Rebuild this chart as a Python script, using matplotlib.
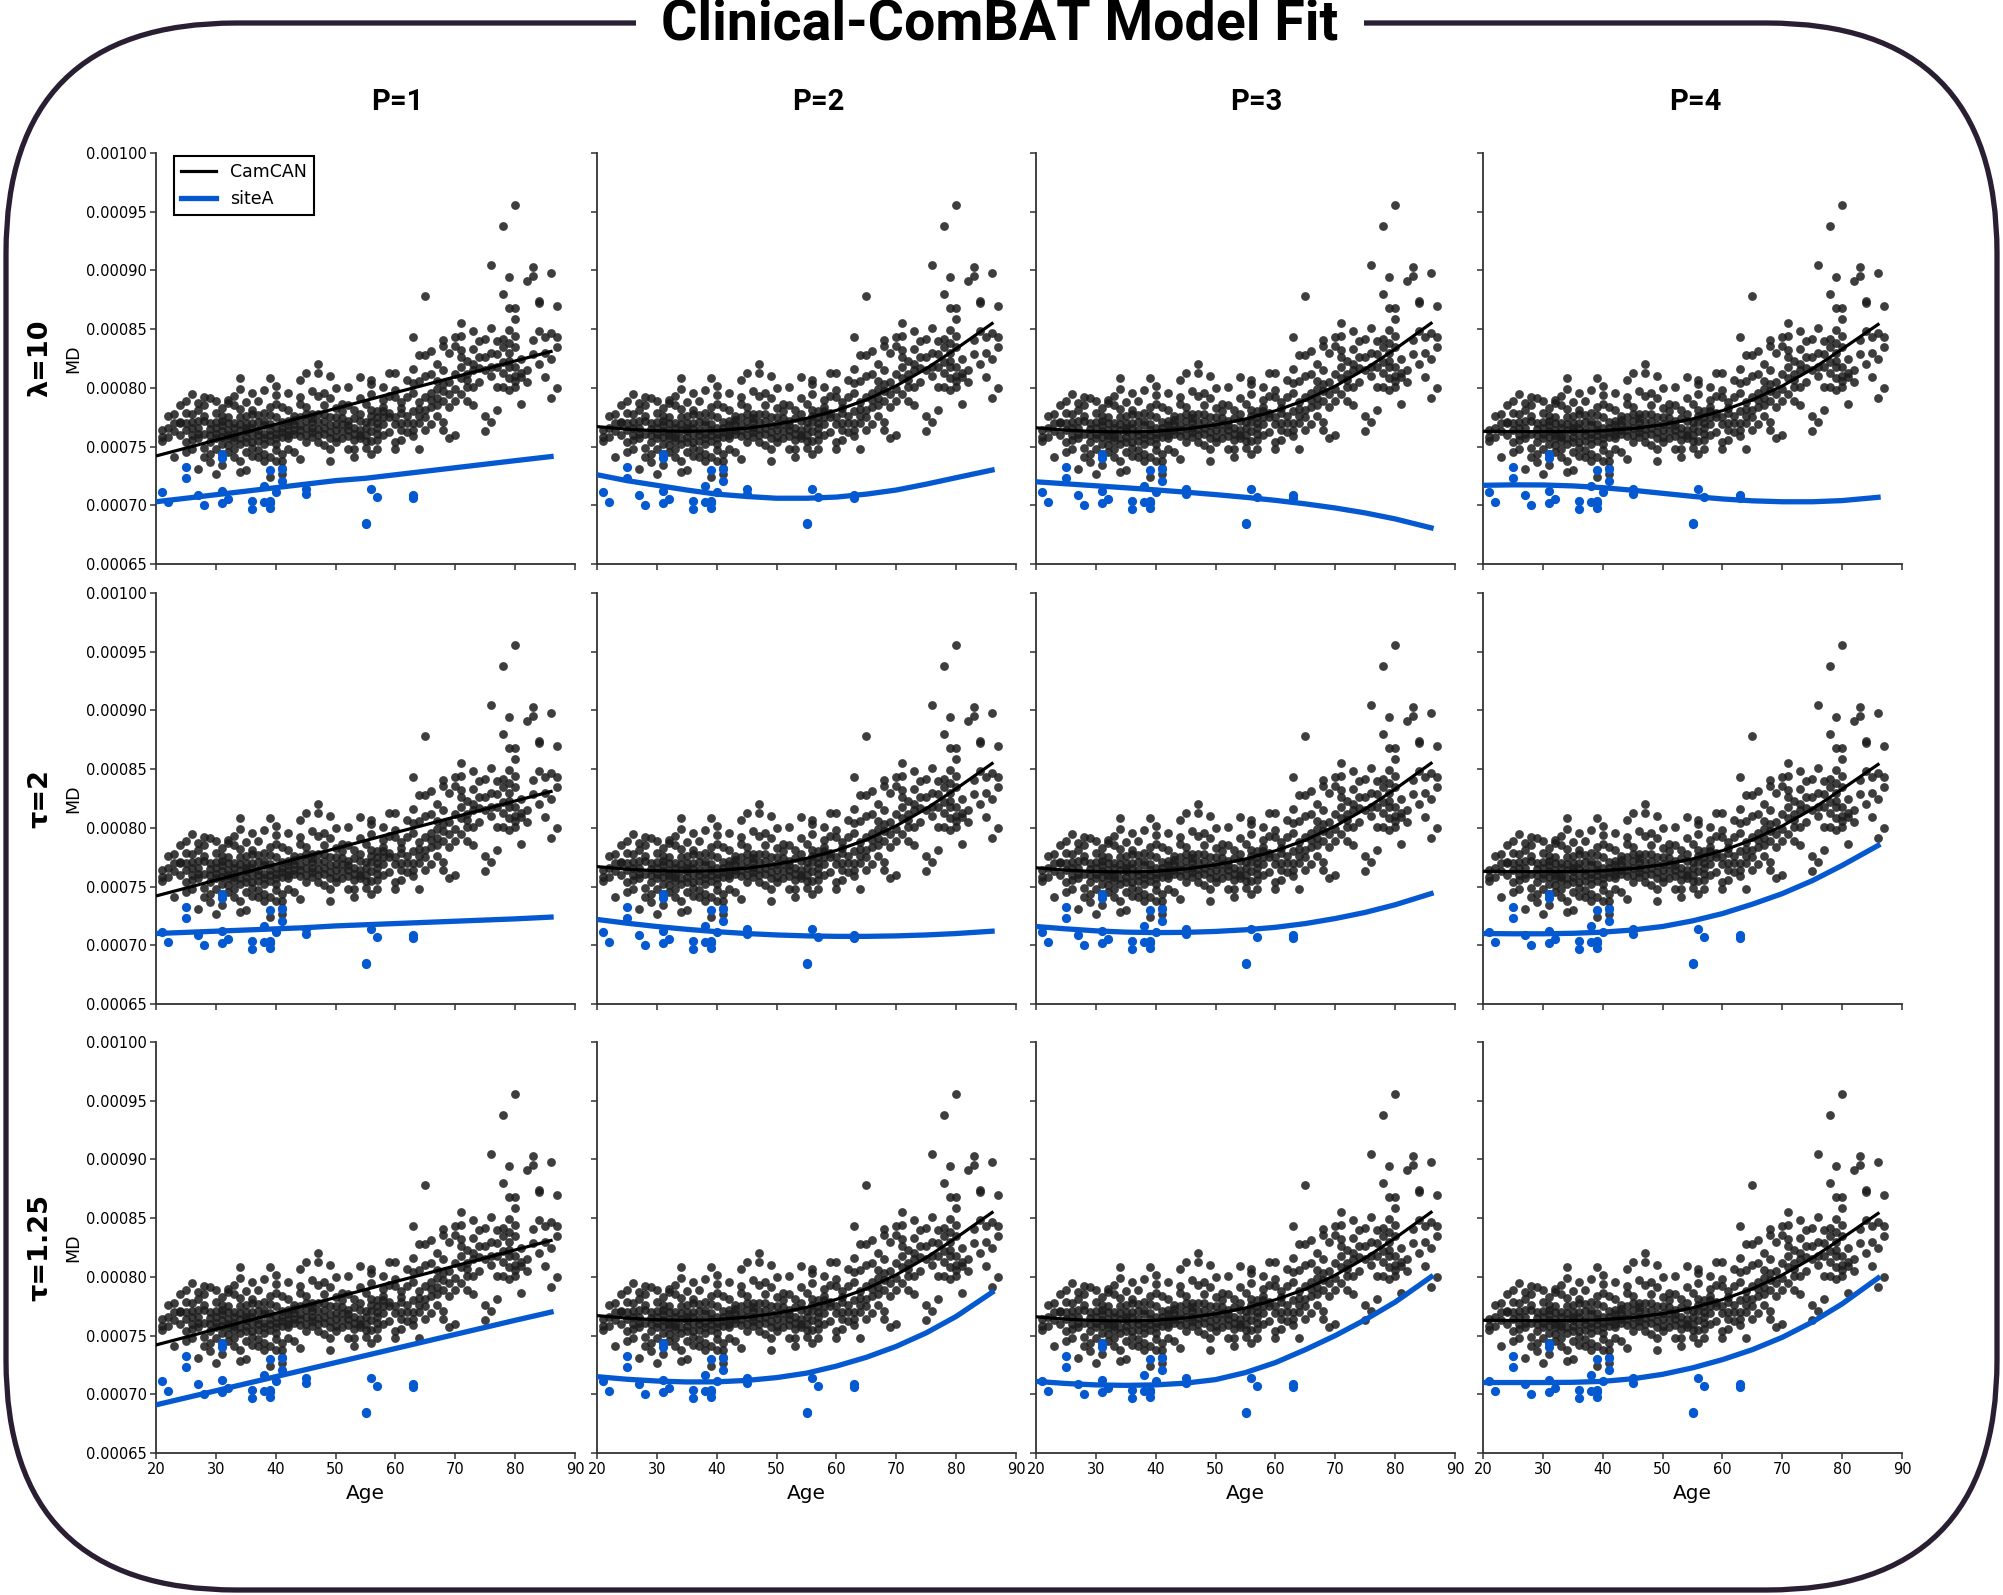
import numpy as np
import matplotlib
matplotlib.use("Agg")
import matplotlib.pyplot as plt
from matplotlib.patches import FancyBboxPatch
from matplotlib.ticker import FormatStrFormatter

# ---------------- data (MD values in units of 1e-6) ----------------
camcan_pts = [
    (80,956),(78,938),(76,905),(83,903),(83,895),(82,891),(86,898),(79,894),(78,880),(65,878),
    (84,874),(84,872),(87,870),(79,868),(80,868),(80,859),(71,855),(76,851),(79,849),(73,848),
    (63,843),(68,841),(70,843),(71,844),(75,842),(74,840),(77,840),(78,842),(80,844),(85,843),
    (87,843),(86,847),(84,848),(68,836),(70,836),(71,832),(73,833),(78,835),(79,838),(80,835),
    (64,828),(65,828),(66,831),(69,830),(71,826),(72,823),(74,826),(83,829),
    (67,820),(68,815),(71,818),(76,818),(77,818),(78,813),(79,823),(79,818),(80,818),(81,813),
    (63,816),(59,813),(60,813),(47,820),(47,813),(45,813),(49,810),(44,807),(54,809),(56,807),
    (56,803),(34,808),(39,808),(40,802),
    (62,807),(63,804),(64,806),(65,810),(67,806),(68,803),(70,799),(71,795),(72,801),(73,801),
    (74,805),(77,801),(78,801),(79,798),(80,801),(82,805),(85,809),(87,800),(86,791),(81,786),
    (58,801),(59,793),(60,798),(61,788),(62,792),(63,796),(64,788),(65,792),(66,796),(67,791),
    (68,789),(69,784),(70,789),(72,789),(73,785),(75,776),(76,771),(77,781),(75,763),(70,760),(69,757),
    (66,784),(67,776),(68,771),(68,764),(66,769),(64,776),(65,764),(64,748),(62,762),(61,756),
    (60,754),(60,748),(63,759),(62,776),(61,779),(60,769),(59,775),(58,769),(57,761),(56,755),
    (57,748),(56,744),(55,749),(54,757),(53,748),(53,741),(52,748),(51,757),(50,754),(49,748),
    (49,738),(48,751),(47,754),(46,762),(45,754),(44,764),(44,739),(43,745),(42,757),(41,744),
    (41,738),(41,732),(41,727),(40,738),(39,741),(39,724),(38,738),(37,747),(36,742),(35,730),
    (34,738),(34,728),(33,748),(32,751),(31,744),(31,734),(30,727),(29,737),(28,741),(27,731),
    (26,748),(25,745),(23,741),(22,758),(21,755),
    (23,778),(24,785),(25,789),(25,779),(24,771),(25,764),(26,778),(27,781),(28,785),(29,791),
    (30,779),(31,776),(32,790),(33,793),(34,782),(35,788),(37,789),(38,779),(40,786),(41,784),
    (42,781),(43,776),(44,786),(45,784),(46,778),(47,793),(48,796),(49,791),(50,775),(51,786),
    (52,785),(53,781),(54,791),(55,786),(56,781),(57,775),(58,784),(59,779),
    (21,764),(24,770),(26,766),(27,766),(28,772),(28,761),(29,765),(30,761),(31,768),(31,758),
    (32,764),(32,757),(33,761),(33,755),(34,764),(34,752),(35,758),(36,754),(36,766),(37,755),
    (37,771),(38,761),(39,764),(39,755),(40,761),(40,752),(41,766),(42,764),(43,769),(44,759),
    (45,772),(46,766),(47,771),(48,761),(49,768),(50,764),(51,769),(52,764),(53,766),(54,772),
    (55,766),(56,771),(57,766),(58,775),
    (25,754),(27,757),(28,749),(29,754),(30,748),(32,745),(33,741),(35,745),(36,749),(37,741),
    (38,744),(40,747),(42,748),
    (30,771),(31,763),(32,770),(33,758),(34,775),(35,763),(36,778),(37,760),(38,768),(31,783),
    (33,785),(36,781),(39,777),(42,772),(44,775),(46,771),(48,778),(50,783),(52,772),(54,764),
    (22,776),(23,763),(26,756),(29,744),(35,770),(38,752),(41,758),(43,761),(45,766),(47,760),
    (49,757),(51,763),(53,756),(55,760),(57,756),(59,762),(61,770),(63,770),(65,781),(67,785),
    (69,795),(71,808),(73,815),(75,826),(76,810),(77,829),(78,822),(79,830),(81,825),(82,815),
    (83,841),(84,820),(85,830),(86,825),(87,835),(79,808),(80,810),(80,806),(81,809),(72,812),
    (74,817),(66,812),(60,792),(58,790),(56,795),(52,801),(50,800),(48,785),(46,797),(44,792),
    (42,796),(40,794),(38,798),(36,796),(34,799),(32,787),(30,789),(28,792),(27,787),(26,795),
    (30,757),(30,766),(31,772),(31,752),(32,760),(32,775),(33,766),(33,770),(34,757),(34,769),
    (35,754),(35,766),(35,776),(36,760),(36,770),(37,764),(37,777),(38,757),(38,772),(39,760),
    (39,769),(39,784),(40,757),(40,766),(40,775),(41,762),(41,771),(42,760),(42,768),(43,764),
    (43,773),(44,768),(45,760),(45,778),(46,758),(46,774),(47,765),(47,778),(48,766),(48,772),
    (49,762),(49,775),(50,758),(50,769),(51,774),(51,780),(52,759),(52,768),(53,761),(53,774),
    (54,760),(54,778),(55,755),(55,771),(56,763),(56,776),(57,770),(57,780),(58,760),(58,780),
    (27,772),(27,761),(28,776),(29,760),(29,770),(26,760),(26,771),(25,770),(24,760),(23,770),
    (22,766),(21,758),(60,775),(61,764),(61,783),(62,770),(63,764),(63,780),(64,770),(64,782),
    (65,775),(66,790),(67,799),(68,797),(69,805),(70,812),(72,807),(73,820),(75,815),(76,830),
]
camcan_age = [p[0] for p in camcan_pts]
camcan_md_e6 = [p[1] for p in camcan_pts]

siteA_age = [21,22,25,25,27,28,31,31,31,31,32,36,36,38,38,39,39,39,39,40,41,41,45,45,55,55,56,57,63,63]
siteA_md_e6 = [711,703,733,723,709,700,744,740,712,702,705,704,697,716,703,730,704,698,702,711,731,721,714,710,684,685,714,707,709,706]

fit_age = [20, 25, 30, 35, 40, 45, 50, 55, 60, 65, 70, 75, 80, 86]

camcan_fit_p1 = [742, 748.7, 755.5, 762.2, 769, 775.7, 782.4, 789.2, 796, 802.6, 809.4, 816, 822.9, 831]
camcan_fit_p2 = [767, 764.8, 763.5, 763, 763.6, 765.6, 769, 774, 780.8, 789.8, 801.8, 816.3, 833.3, 854.8]
camcan_fit_p3 = [766, 764, 762.8, 762.4, 763, 765, 768.5, 773.5, 780.5, 789.5, 801.5, 816, 833, 855]
camcan_fit_p4 = [763, 762.8, 762.7, 762.8, 763.5, 765.3, 768.6, 773.6, 780.6, 789.8, 801.6, 816, 833, 854]

siteA_lam10_p1 = [703, 706, 709, 712, 715, 718, 721, 723, 726, 729, 732, 735, 738, 741.5]
siteA_lam10_p2 = [726, 721, 717, 713, 709.5, 707.5, 706, 706, 707, 709.5, 713, 718, 723.5, 730]
siteA_lam10_p3 = [720, 718.3, 716.6, 714.9, 713.1, 711.2, 709.1, 706.8, 704.2, 701.2, 697.7, 693.5, 688.4, 680.8]
siteA_lam10_p4 = [717, 717.4, 717.3, 716.5, 715, 712.8, 710.2, 707.6, 705.4, 703.8, 703, 703, 704, 706.8]

siteA_tau2_p1 = [710, 711, 712, 713, 714, 715, 716.5, 717.5, 718.5, 719.5, 720.5, 721.5, 722.5, 724]
siteA_tau2_p2 = [722, 718.8, 716, 713.6, 711.6, 710, 708.8, 708, 707.6, 707.6, 708, 708.8, 710, 712]
siteA_tau2_p3 = [716, 714, 712.3, 711.2, 710.8, 711, 711.8, 713.2, 715.3, 718.5, 722.8, 728, 734.5, 744]
siteA_tau2_p4 = [710, 709.8, 709.8, 710.2, 711.2, 713, 716, 720.8, 727, 735, 744, 755, 768, 785]

siteA_tau125_p1 = [691, 697, 703, 709, 715, 721, 727, 733, 739, 745, 751, 757, 763, 770]
siteA_tau125_p2 = [715, 712.8, 711.3, 710.5, 710.6, 711.8, 714.2, 718, 724, 731.5, 740.8, 752.3, 766.3, 786.8]
siteA_tau125_p3 = [711, 709.2, 708, 707.6, 708, 709.5, 712.5, 718.5, 727, 738, 750, 763.5, 778.5, 800]
siteA_tau125_p4 = [710, 710, 710, 710.2, 711, 713.2, 717, 722.5, 729.5, 738, 748.5, 761.5, 777, 799]

row_labels = ["λ=10", "τ=2", "τ=1.25"]
col_labels = ["P=1", "P=2", "P=3", "P=4"]
yticks = [0.00065, 0.00070, 0.00075, 0.00080, 0.00085, 0.00090, 0.00095, 0.00100]
xticks = [20, 30, 40, 50, 60, 70, 80, 90]

camcan_fits = [camcan_fit_p1, camcan_fit_p2, camcan_fit_p3, camcan_fit_p4]
siteA_fits = [
    [siteA_lam10_p1, siteA_lam10_p2, siteA_lam10_p3, siteA_lam10_p4],
    [siteA_tau2_p1, siteA_tau2_p2, siteA_tau2_p3, siteA_tau2_p4],
    [siteA_tau125_p1, siteA_tau125_p2, siteA_tau125_p3, siteA_tau125_p4],
]

# ---------------- figure ----------------
plt.rcParams["font.family"] = ["DejaVu Sans"]
W, H = 2003, 1595
fig = plt.figure(figsize=(W / 100, H / 100), dpi=100)

BLUE = "#0459d1"
SPINE = "#333333"
col_left = [156, 597, 1036, 1483]
row_top = [153, 593, 1042]
aw, ah = 419, 411

sc = 1e-6
for r in range(3):
    for c in range(4):
        ax = fig.add_axes([col_left[c] / W, 1 - (row_top[r] + ah) / H, aw / W, ah / H])
        ax.scatter(camcan_age, np.array(camcan_md_e6) * sc, s=40, color="#1c1c1c",
                   alpha=0.85, linewidths=0, zorder=2)
        ax.scatter(siteA_age, np.array(siteA_md_e6) * sc, s=44, color=BLUE,
                   linewidths=0, zorder=3)
        ax.plot(fit_age, np.array(camcan_fits[c]) * sc, color="black", lw=2.3, zorder=4,
                label="CamCAN", solid_joinstyle="round")
        ax.plot(fit_age, np.array(siteA_fits[r][c]) * sc, color=BLUE, lw=3.8, zorder=4,
                label="siteA", solid_joinstyle="round")
        ax.set_xlim(20, 90)
        ax.set_ylim(0.00065, 0.00100)
        ax.set_xticks(xticks)
        ax.set_yticks(yticks)
        ax.yaxis.set_major_formatter(FormatStrFormatter("%.5f"))
        for s in ["top", "right"]:
            ax.spines[s].set_visible(False)
        for s in ["left", "bottom"]:
            ax.spines[s].set_color(SPINE)
            ax.spines[s].set_linewidth(1.3)
        ax.tick_params(axis="both", direction="out", length=4.5, width=1.1, color=SPINE,
                       labelsize=10.5, pad=2)
        if c != 0:
            ax.tick_params(axis="y", labelleft=False)
        else:
            ax.set_ylabel("MD", fontsize=12.5, labelpad=3)
        if r != 2:
            ax.tick_params(axis="x", labelbottom=False)
        else:
            ax.set_xlabel("Age", fontsize=14.5, labelpad=5)
        if r == 0 and c == 0:
            leg = ax.legend(loc="upper left", bbox_to_anchor=(0.035, 1.0), fontsize=12.5,
                            fancybox=False, framealpha=1, edgecolor="black",
                            handlelength=2.0, borderaxespad=0.2)
            leg.get_frame().set_linewidth(1.5)

# column titles
col_title_x = [397, 818, 1256, 1695]
for c in range(4):
    fig.text(col_title_x[c] / W, 1 - 102 / H, col_labels[c], ha="center", va="center",
             fontsize=21, fontweight="bold", family=["Roboto", "DejaVu Sans"])

# row labels
for r in range(3):
    yc = 1 - (row_top[r] + ah / 2) / H
    fig.text(40 / W, yc, row_labels[r], rotation=90, ha="center", va="center",
             fontsize=19.5, fontweight="bold")

# rounded border
border = FancyBboxPatch((0.06, 0.05), 19.91, 15.72 - 0.05,
                        boxstyle="round,pad=0,rounding_size=2.3",
                        transform=fig.dpi_scale_trans, fill=False,
                        edgecolor="#2a1e33", linewidth=3.8, zorder=0)
fig.add_artist(border)

# title over the border
fig.text(1000 / W, 1 - 25 / H, "Clinical-ComBAT Model Fit", ha="center", va="center",
         fontsize=40, fontweight="bold", family=["Roboto", "DejaVu Sans"], zorder=5,
         bbox=dict(boxstyle="square,pad=0.45", facecolor="white", edgecolor="none"))

fig.savefig("out.png", dpi=100, facecolor="white")
